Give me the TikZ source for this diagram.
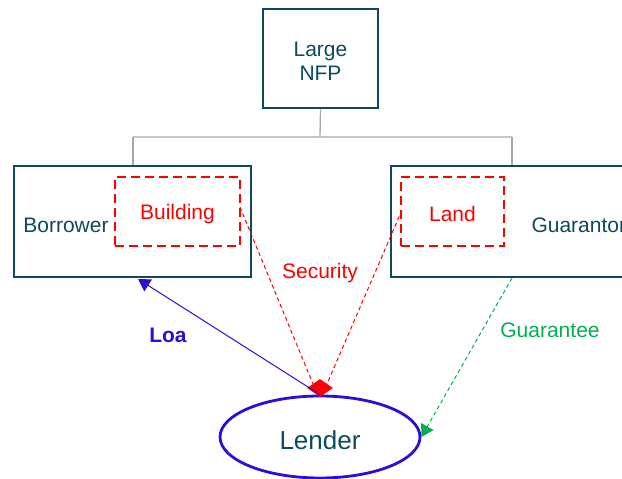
\documentclass[tikz,border=0pt]{standalone}
\usepackage{fontspec}
\setmainfont{Liberation Sans}
\usetikzlibrary{arrows.meta,shapes.geometric}
\definecolor{teal}{HTML}{0E4A5E}
\definecolor{lblue}{HTML}{2A10D6}
\definecolor{lgreen}{HTML}{00B050}
\definecolor{lred}{HTML}{FF0000}
\definecolor{lgray}{HTML}{A8A8A8}
\begin{document}
\begin{tikzpicture}[x=1pt,y=-1pt,
  txt/.style={font=\fontsize{21}{24}\selectfont, text=teal},
  orgbox/.style={draw=teal, line width=2.8pt, fill=white},
  secbox/.style={draw=lred, line width=2.8pt, dash pattern=on 9pt off 5pt},
  tree/.style={draw=lgray, line width=1.3pt},
  reddash/.style={draw=lred, line width=1pt, dash pattern=on 4pt off 3pt},
]
\useasboundingbox (0,0) rectangle (622,479);
\begin{scope}
\clip (0,0) rectangle (622,479);
% tree
\coordinate (tj) at (320,137);
\coordinate (tl) at (133,137);
\coordinate (tr) at (512,137);
\node[orgbox, minimum width=115pt, minimum height=99pt, inner sep=0pt] (nfp) at (320.5,58.5) {};
\node[txt, align=center] (nfpt) at (320.5,61) {Large\\[0pt]NFP};
\node[orgbox, minimum width=237pt, minimum height=111pt, inner sep=0pt] (bor) at (132.5,221.5) {};
\node[orgbox, minimum width=240pt, minimum height=111pt, inner sep=0pt] (gua) at (511,221.5) {};
\draw[tree] (nfp.south) -- (tj) (tl) -- (tr);
\draw[tree] (tl) -- (tl |- bor.north);
\draw[tree] (tr) -- (tr |- gua.north);
\node[txt] (bort) at (66,225) {Borrower};
\node[txt, anchor=west] (guat) at (528,225) {Guarantor};
\node[secbox, minimum width=125pt, minimum height=69pt, inner sep=0pt] (bld) at (177.5,211.5) {};
\node[txt, text=lred] at (177.5,214) {Building};
\node[secbox, minimum width=103pt, minimum height=69pt, inner sep=0pt] (land) at (452.5,211.5) {};
\node[txt, text=lred] at (452.5,214) {Land};
% lender
\node[ellipse, draw=lblue, line width=2.8pt, minimum width=200pt, minimum height=82pt, inner sep=0pt] (len) at (320,437) {};
\node[txt, font=\fontsize{26}{30}\selectfont] at (320,440) {Lender};
% security diamond
\node[diamond, fill=lred, minimum width=26pt, minimum height=18pt, inner sep=0pt] (dia) at (320,388) {};
% connectors
\coordinate (bldp) at (240,207);
\coordinate (landp) at (402,210);
\draw[reddash] (bldp) -- (313,384);
\draw[reddash] (landp) -- (327,384);
\coordinate (loaend) at (138,279);
\draw[draw=lblue, line width=1pt, -{Triangle[length=12pt,width=14pt]}] (len.north) -- (loaend);
\coordinate (gstart) at (512,278);
\draw[draw=lgreen, line width=1pt, dash pattern=on 4pt off 3pt, -{Triangle[length=12pt,width=14pt]}] (gstart) -- (len.east);
% labels
\node[txt, text=lred] at (320,273) {Security};
\node[txt, text=lblue, font=\fontsize{21}{24}\selectfont\bfseries] at (168,335) {Loa};
\node[txt, text=lgreen] at (550,330) {Guarantee};
\end{scope}
\end{tikzpicture}
\end{document}
